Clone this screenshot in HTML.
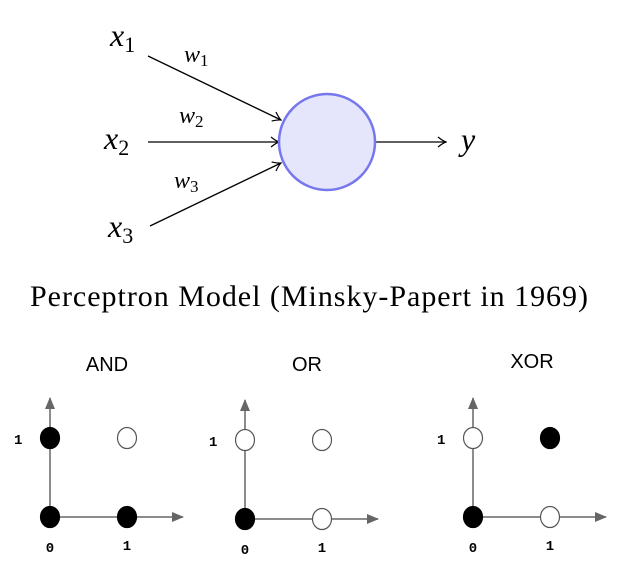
<!DOCTYPE html>
<html><head><meta charset="utf-8"><style>
body{margin:0;background:#fff;width:618px;height:569px;overflow:hidden}
svg{display:block}
.m{font-family:"Liberation Serif",serif;font-style:italic}
.t{font-family:"Liberation Sans",sans-serif;font-size:20px}
.k{font-family:"Liberation Mono",monospace;font-size:14px;font-weight:bold}
</style></head><body>
<svg width="618" height="569">
<defs>
<marker id="oa" markerWidth="10" markerHeight="12" refX="9" refY="6" orient="auto" markerUnits="userSpaceOnUse"><path d="M1,1 Q6,5 9,6 Q6,7 1,11" fill="none" stroke="#000" stroke-width="1.2"/></marker>
<marker id="ga" markerWidth="12" markerHeight="10" refX="11" refY="5" orient="auto" markerUnits="userSpaceOnUse"><path d="M0,0 L12,5 L0,10 Z" fill="#666"/></marker>
</defs>
<g stroke="#000" stroke-width="1.3">
<line x1="148" y1="56" x2="281" y2="120" marker-end="url(#oa)"/>
<line x1="148" y1="142" x2="279" y2="142" marker-end="url(#oa)"/>
<line x1="150" y1="226" x2="281" y2="163" marker-end="url(#oa)"/>
<line x1="375" y1="142" x2="446" y2="142" marker-end="url(#oa)"/>
<circle cx="327" cy="142" r="48" fill="#e5e5fc" stroke="#7777ee" stroke-width="2.5"/>
</g>
<g class="m" font-size="32">
<text x="110" y="46">x<tspan font-style="normal" font-size="22" dy="6">1</tspan></text>
<text x="104" y="149">x<tspan font-style="normal" font-size="22" dy="6">2</tspan></text>
<text x="108" y="237">x<tspan font-style="normal" font-size="22" dy="6">3</tspan></text>
<text x="184" y="62" font-size="24">w<tspan font-style="normal" font-size="17" dy="4">1</tspan></text>
<text x="179" y="123" font-size="24">w<tspan font-style="normal" font-size="17" dy="4">2</tspan></text>
<text x="174" y="188" font-size="24">w<tspan font-style="normal" font-size="17" dy="4">3</tspan></text>
<text x="461" y="150">y</text>
</g>
<text x="309" y="306" text-anchor="middle" font-family="Liberation Serif,serif" font-size="30" textLength="558">Perceptron Model (Minsky-Papert in 1969)</text>
<g id="plots"></g>
</svg>
<script>
const gateNames=["AND","OR","XOR"];
const andOut=[0,0,0,1];
const orOut=[0,1,1,1];
const xorOut=[0,1,1,0];
const inputsA=[0,0,1,1];
const inputsB=[0,1,0,1];
const outs=[andOut,orOut,xorOut];
const origins=[[50,517,107,371],[245,519,307,371],[473,517,532,368]];
const ns="http://www.w3.org/2000/svg";
const g=document.getElementById('plots');
function mk(t,a){const e=document.createElementNS(ns,t);for(const k in a)e.setAttribute(k,a[k]);g.appendChild(e);return e;}
gateNames.forEach((n,i)=>{
 const [ox,oy,tx,ty]=origins[i];
 const sx=v=>ox+v*77, sy=v=>oy-v*79;
 let e=mk('text',{x:tx,y:ty,'text-anchor':'middle',class:'t'});e.textContent=n;
 
 
 e=mk('line',{x1:ox,y1:oy,x2:ox,y2:oy-119,stroke:'#666','stroke-width':1.5,'marker-end':'url(#ga)'});
 
 
 e=mk('line',{x1:ox,y1:oy,x2:ox+133,y2:oy,stroke:'#666','stroke-width':1.5,'marker-end':'url(#ga)'});
 
 
 e=mk('text',{x:ox-36,y:sy(1)+6,class:'k'});e.textContent='1';
 
 
 e=mk('text',{x:ox,y:oy+35,class:'k','text-anchor':'middle'});e.textContent='0';
 
 
 e=mk('text',{x:sx(1),y:oy+33,class:'k','text-anchor':'middle'});e.textContent='1';
 
 
 outs[i].forEach((o,j)=>{
  e=mk('ellipse',{cx:sx(inputsA[j]),cy:sy(inputsB[j]),rx:9.5,ry:10.5,fill:o?'#fff':'#000',stroke:o?'#555':'#000','stroke-width':1.2});
  
  
 });
});
</script>
</body></html>
